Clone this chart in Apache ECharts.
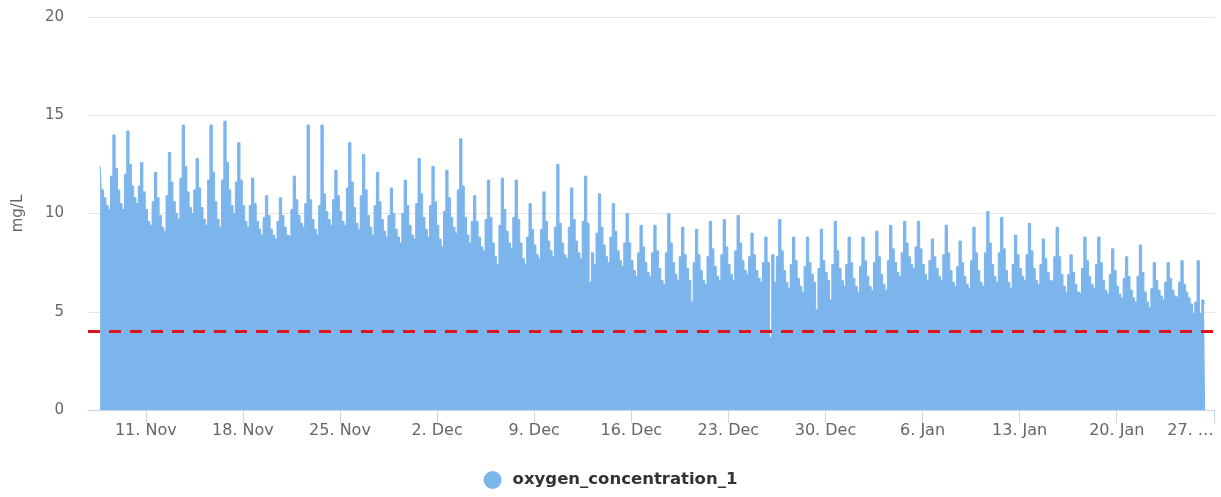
<!DOCTYPE html>
<html>
<head>
<meta charset="utf-8">
<title>oxygen_concentration_1</title>
<script src="https://cdn.jsdelivr.net/npm/echarts@6/dist/echarts.min.js"></script>
<style>
  html, body { margin: 0; padding: 0; background: #fff; }
  #chart { width: 1221px; height: 497px; }
</style>
</head>
<body>
<div id="chart"></div>
<script>
// readings every 4 hours (01,05,09,13,17,21 UTC), first one 7 Nov 2019 17:00
const seriesName = 'oxygen_concentration_1';
const firstReading = Date.UTC(2019, 10, 7, 17);
const stepMs = 4 * 3600 * 1000;

const novValues = [
  12.4, 11.2,
  10.8, 10.4, 10.2, 11.9, 14.0, 12.3,
  11.2, 10.5, 10.2, 12.0, 14.2, 12.5,
  11.4, 10.8, 10.5, 11.4, 12.6, 11.1,
  10.2, 9.6, 9.4, 10.6, 12.1, 10.8,
  9.9, 9.3, 9.1, 10.9, 13.1, 11.6,
  10.6, 10.0, 9.7, 11.8, 14.5, 12.4,
  11.1, 10.3, 10.0, 11.2, 12.8, 11.3,
  10.3, 9.7, 9.4, 11.7, 14.5, 12.1,
  10.6, 9.7, 9.3, 11.7, 14.7, 12.6,
  11.2, 10.4, 10.0, 11.6, 13.6, 11.7,
  10.4, 9.6, 9.3, 10.4, 11.8, 10.5,
  9.6, 9.2, 8.9, 9.8, 10.9, 9.9,
  9.2, 8.9, 8.7, 9.6, 10.8, 9.9,
  9.3, 8.9, 8.8, 10.2, 11.9, 10.7,
  9.9, 9.5, 9.3, 10.5, 14.5, 10.7,
  9.7, 9.2, 8.9, 10.4, 14.5, 11.0,
  10.1, 9.7, 9.4, 10.7, 12.2, 10.9,
  10.1, 9.6, 9.4, 11.3, 13.6, 11.6,
  10.3, 9.5, 9.2, 10.9, 13.0, 11.2,
  9.9, 9.3, 8.9, 10.4, 12.1, 10.6,
  9.7, 9.1, 8.8, 9.9, 11.3, 10.0,
  9.2, 8.8, 8.5, 10.0, 11.7, 10.4,
  9.4, 8.9, 8.7, 10.5, 12.8, 11.0
];
const decValues = [
  9.8, 9.2, 8.8, 10.4, 12.4, 10.6,
  9.4, 8.7, 8.3, 10.1, 12.2, 10.8,
  9.8, 9.3, 9.0, 11.2, 13.8, 11.4,
  9.8, 8.9, 8.5, 9.6, 10.9, 9.6,
  8.8, 8.3, 8.1, 9.7, 11.7, 9.8,
  8.5, 7.8, 7.4, 9.4, 11.8, 10.2,
  9.1, 8.5, 8.2, 9.8, 11.7, 9.7,
  8.5, 7.7, 7.4, 8.8, 10.5, 9.2,
  8.4, 7.9, 7.7, 9.2, 11.1, 9.6,
  8.6, 8.1, 7.8, 9.3, 12.5, 9.5,
  8.5, 7.9, 7.7, 9.3, 11.3, 9.7,
  8.6, 8.0, 7.7, 9.6, 11.9, 9.5,
  6.5, 8.0, 7.4, 9.0, 11.0, 9.3,
  8.4, 7.8, 7.5, 8.8, 10.5, 9.1,
  8.1, 7.6, 7.3, 8.5, 10.0, 8.5,
  7.6, 7.1, 6.8, 8.0, 9.4, 8.3,
  7.5, 7.0, 6.8, 8.0, 9.4, 8.1,
  7.2, 6.6, 6.4, 8.0, 10.0, 8.5,
  7.5, 6.9, 6.6, 7.8, 9.3, 7.9,
  7.2, 6.6, 5.5, 7.5, 9.2, 7.9,
  7.1, 6.6, 6.4, 7.8, 9.6, 8.2,
  7.3, 6.8, 6.6, 7.9, 9.7, 8.3,
  7.4, 6.9, 6.6, 8.1, 9.9, 8.5,
  7.6, 7.1, 6.9, 7.8, 9.0, 7.9,
  7.1, 6.7, 6.5, 7.5, 8.8, 7.5,
  3.7, 7.9, 6.5, 7.8, 9.7, 8.1,
  7.1, 6.5, 6.2, 7.4, 8.8, 7.6,
  6.7, 6.3, 6.0, 7.3, 8.8, 7.5,
  6.9, 6.5, 5.1, 7.2, 9.2, 7.6,
  7.0, 6.6, 5.6, 7.4, 9.6, 8.1,
  7.2, 6.6, 6.3, 7.4, 8.8, 7.5
];
const janValues = [
  6.7, 6.3, 6.0, 7.3, 8.8, 7.6,
  6.8, 6.3, 6.1, 7.5, 9.1, 7.8,
  6.9, 6.4, 6.1, 7.6, 9.4, 8.2,
  7.5, 7.0, 6.8, 8.0, 9.6, 8.5,
  7.8, 7.4, 7.2, 8.3, 9.6, 8.2,
  7.4, 6.9, 6.6, 7.6, 8.7, 7.8,
  7.2, 6.8, 6.6, 7.9, 9.4, 8.0,
  7.1, 6.5, 6.3, 7.3, 8.6, 7.5,
  6.8, 6.4, 6.2, 7.6, 9.3, 8.0,
  7.1, 6.5, 6.3, 8.0, 10.1, 8.5,
  7.4, 6.8, 6.5, 8.0, 9.8, 8.2,
  7.1, 6.5, 6.2, 7.4, 8.9, 7.9,
  7.2, 6.8, 6.6, 7.9, 9.5, 8.1,
  7.2, 6.6, 6.4, 7.4, 8.7, 7.7,
  7.0, 6.6, 6.5, 7.8, 9.3, 7.8,
  6.9, 6.3, 6.0, 6.9, 7.9, 7.0,
  6.4, 6.0, 5.9, 7.2, 8.8, 7.6,
  6.8, 6.4, 6.2, 7.4, 8.8, 7.5,
  6.6, 6.1, 5.9, 6.9, 8.2, 7.1,
  6.3, 5.9, 5.7, 6.7, 7.8, 6.8,
  6.1, 5.7, 5.5, 6.8, 8.4, 7.0,
  6.0, 5.5, 5.2, 6.2, 7.5, 6.6,
  6.1, 5.8, 5.6, 6.5, 7.5, 6.7,
  6.1, 5.8, 5.7, 6.5, 7.6, 6.4,
  6.0, 5.7, 5.4, 4.9, 5.5, 7.6,
  4.9, 5.6, 5.4
];

const thresholdValue = 4;

const tickDates = [
  Date.UTC(2019, 10, 11), Date.UTC(2019, 10, 18), Date.UTC(2019, 10, 25),
  Date.UTC(2019, 11, 2), Date.UTC(2019, 11, 9), Date.UTC(2019, 11, 16),
  Date.UTC(2019, 11, 23), Date.UTC(2019, 11, 30), Date.UTC(2020, 0, 6),
  Date.UTC(2020, 0, 13), Date.UTC(2020, 0, 20), Date.UTC(2020, 0, 27)
];
const tickLabels = [
  '11. Nov', '18. Nov', '25. Nov', '2. Dec', '9. Dec', '16. Dec',
  '23. Dec', '30. Dec', '6. Jan', '13. Jan', '20. Jan', '27. …'
];

const allValues = novValues.concat(decValues, janValues);
const seriesData = allValues.map((v, i) => [firstReading + i * stepMs, v]);

const chart = echarts.init(document.getElementById('chart'));
const fontFamily = '"DejaVu Sans", sans-serif';

const option = {
  animation: false,
  grid: { left: 88, right: 6, top: 17, bottom: 87, containLabel: false, outerBoundsMode: 'none' },
  legend: {
    data: [seriesName],
    left: 'center',
    top: 466,
    icon: 'circle',
    itemWidth: 18,
    itemHeight: 18,
    textStyle: {
      fontFamily: fontFamily,
      fontSize: 16.5,
      fontWeight: 'bold',
      color: '#333',
      padding: [0, 0, 0, 6]
    }
  },
  xAxis: {
    type: 'value',
    min: Date.UTC(2019, 10, 6, 20),
    max: Date.UTC(2020, 0, 27, 2),
    splitLine: { show: false },
    axisLine: { show: true, lineStyle: { color: '#ccd6eb', width: 1 } },
    axisTick: {
      show: true,
      length: 13,
      customValues: tickDates,
      lineStyle: { color: '#ccd6eb' }
    },
    axisLabel: {
      customValues: tickDates,
      margin: 13,
      fontFamily: fontFamily,
      fontSize: 16,
      color: '#666',
      alignMaxLabel: 'right',
      formatter: function (value) {
        const idx = tickDates.indexOf(value);
        return idx >= 0 ? tickLabels[idx] : '';
      }
    }
  },
  yAxis: {
    type: 'value',
    min: 0,
    max: 20,
    interval: 5,
    name: 'mg/L',
    nameLocation: 'middle',
    nameGap: 62,
    nameTextStyle: { fontFamily: fontFamily, fontSize: 15, color: '#666' },
    axisLine: { show: false },
    axisTick: { show: false },
    splitLine: { lineStyle: { color: '#e6e6e6', width: 1 } },
    axisLabel: {
      margin: 24,
      fontFamily: fontFamily,
      fontSize: 15,
      color: '#666'
    }
  },
  series: [
    {
      name: seriesName,
      type: 'line',
      step: 'middle',
      data: seriesData,
      showSymbol: false,
      symbol: 'circle',
      itemStyle: { color: '#7cb5ec' },
      lineStyle: { color: '#7cb5ec', width: 1 },
      areaStyle: { color: '#7cb5ec', opacity: 1 },
      markLine: {
        silent: true,
        symbol: 'none',
        label: { show: false },
        lineStyle: { color: '#e0141e', width: 3, type: [12, 9] },
        data: [{ yAxis: thresholdValue }]
      }
    }
  ]
};

chart.setOption(option);
window.addEventListener('resize', function () {
  chart.resize();
});
</script>
</body>
</html>
